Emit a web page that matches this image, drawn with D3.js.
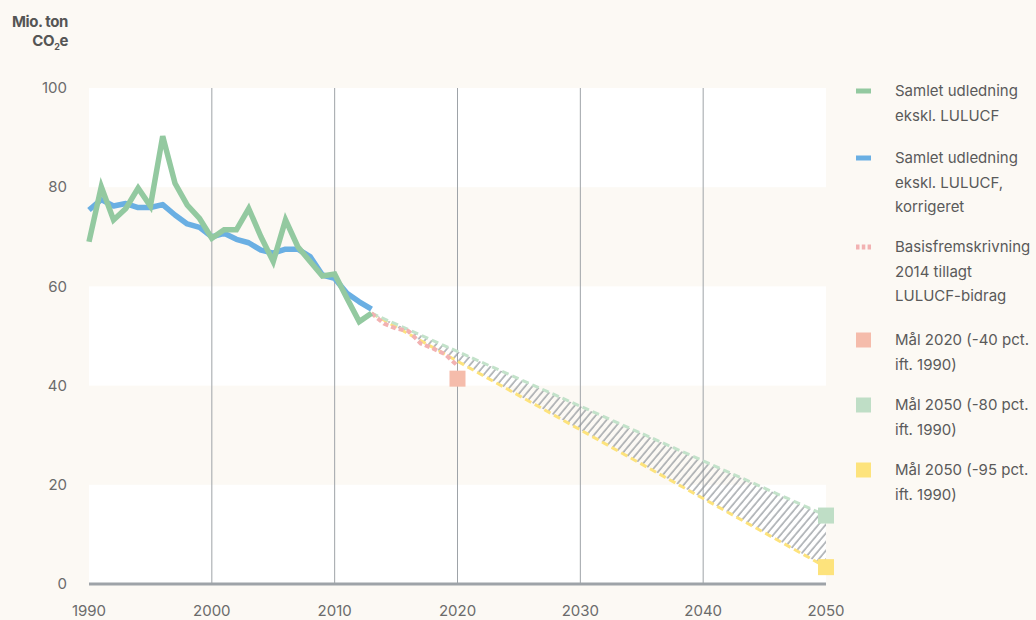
<!DOCTYPE html>
<html>
<head>
<meta charset="utf-8">
<script src="https://cdn.jsdelivr.net/npm/d3@7"></script>
<style>
  body { margin: 0; background: #fcf9f4; }
  svg { display: block; font-family: Inter, "Noto Sans", sans-serif; }
</style>
</head>
<body>
<svg id="chart" width="1036" height="620"></svg>
<script>
// Historical emissions, mio. ton CO2e
const years = d3.range(1990, 2014);
const totalExcl = [69, 80.1, 73.4, 75.7, 79.8, 76.2, 90.3, 80.8, 76.4, 73.7, 69.7, 71.4,
                   71.4, 75.7, 70, 65, 73.4, 68, 65, 62.1, 62.5, 57.6, 52.9, 54.6];
const totalCorrected = [75.4, 77.5, 76.2, 76.7, 75.9, 75.9, 76.5, 74.4, 72.6, 71.9, 70.0, 70.7,
                        69.5, 68.8, 67.3, 66.7, 67.5, 67.5, 66.0, 62.3, 61.6, 58.6, 56.9, 55.4];

// Basisfremskrivning 2014 incl. LULUCF
const projYears = [2013, 2014, 2015, 2016, 2017, 2018, 2019, 2020];
const projValues = [54.6, 52.5, 51.5, 51.0, 48.5, 47.5, 46.3, 44.0];

// Target paths towards 2050
const pathYears = [2013, 2050];
const path80 = [54.6, 13.8];
const path95 = [54.6, 3.4];

// Goals
const goals = [
  { year: 2020, value: 41.4, color: "#f5bcab" },
  { year: 2050, value: 13.8, color: "#bfdec6" },
  { year: 2050, value: 3.4, color: "#fde37c" }
];

const yTicks = [0, 20, 40, 60, 80, 100];
const xTicks = [1990, 2000, 2010, 2020, 2030, 2040, 2050];

const legendItems = [
  { type: "line", color: "#93c9a0", lines: ["Samlet udledning", "ekskl. LULUCF"] },
  { type: "line", color: "#6aafe3", lines: ["Samlet udledning", "ekskl. LULUCF,", "korrigeret"] },
  { type: "dots", color: "#f2b2b2", lines: ["Basisfremskrivning", "2014 tillagt", "LULUCF-bidrag"] },
  { type: "square", color: "#f5bcab", lines: ["Mål 2020 (-40 pct.", "ift. 1990)"] },
  { type: "square", color: "#bfdec6", lines: ["Mål 2050 (-80 pct.", "ift. 1990)"] },
  { type: "square", color: "#fde37c", lines: ["Mål 2050 (-95 pct.", "ift. 1990)"] }
];
const legendTops = [91, 158, 247, 340, 405, 470];

const svg = d3.select("#chart");
const x = d3.scaleLinear().domain([1990, 2050]).range([89, 826]);
const y = d3.scaleLinear().domain([0, 100]).range([584, 88]);

// Hatch pattern
const defs = svg.append("defs");
defs.append("pattern")
    .attr("id", "hatch")
    .attr("patternUnits", "userSpaceOnUse")
    .attr("width", 5.6).attr("height", 5.6)
    .attr("patternTransform", "rotate(40)")
  .append("line")
    .attr("x1", 1).attr("y1", 0).attr("x2", 1).attr("y2", 5.6)
    .attr("stroke", "#8c9196").attr("stroke-width", 1.2);

// Background bands
const bands = [[80, 100], [40, 60], [0, 20]];
svg.append("g").selectAll("rect")
  .data(bands)
  .join("rect")
    .attr("x", x(1990))
    .attr("width", x(2050) - x(1990))
    .attr("y", d => y(d[1]))
    .attr("height", d => y(d[0]) - y(d[1]))
    .attr("fill", "#ffffff");

// Vertical gridlines
svg.append("g").selectAll("line")
  .data(xTicks.slice(1, -1))
  .join("line")
    .attr("x1", d => x(d)).attr("x2", d => x(d))
    .attr("y1", y(100)).attr("y2", y(0))
    .attr("stroke", "#9ea3a8").attr("stroke-width", 1);

// Axis line
svg.append("line")
    .attr("x1", x(1990)).attr("x2", x(2050))
    .attr("y1", y(0)).attr("y2", y(0))
    .attr("stroke", "#9ea3a8").attr("stroke-width", 3);

// Y tick labels
svg.append("g").selectAll("text")
  .data(yTicks)
  .join("text")
    .attr("x", 67).attr("y", d => y(d))
    .attr("dy", "0.35em")
    .attr("text-anchor", "end")
    .attr("font-size", 15).attr("fill", "#6b6b6b")
    .text(d => d);

// X tick labels
svg.append("g").selectAll("text")
  .data(xTicks)
  .join("text")
    .attr("x", d => x(d)).attr("y", 616)
    .attr("text-anchor", "middle")
    .attr("font-size", 15).attr("fill", "#6b6b6b")
    .text(d => d);

// Axis title
const title = svg.append("text")
    .attr("text-anchor", "end")
    .attr("font-size", 15).attr("font-weight", 700)
    .attr("fill", "#555").attr("letter-spacing", -0.4);
title.append("tspan").attr("x", 68).attr("y", 27).text("Mio. ton");
const co2 = title.append("tspan").attr("x", 68).attr("y", 46);
co2.append("tspan").text("CO");
co2.append("tspan").attr("font-size", 9).attr("dy", 4).text("2");
co2.append("tspan").attr("dy", -4).text("e");

// Hatched gap between -80 and -95 paths
const pathData = pathYears.map((yr, i) => ({ year: yr, hi: path80[i], lo: path95[i] }));
svg.append("path")
    .datum(pathData)
    .attr("fill", "url(#hatch)")
    .attr("d", d3.area().x(d => x(d.year)).y0(d => y(d.lo)).y1(d => y(d.hi)));

const line = d3.line().x(d => x(d[0])).y(d => y(d[1]));

// Target path lines
svg.append("path")
    .datum(pathYears.map((yr, i) => [yr, path95[i]]))
    .attr("fill", "none").attr("stroke", "#fde37c")
    .attr("stroke-width", 3).attr("stroke-dasharray", "7,4")
    .attr("d", line);
svg.append("path")
    .datum(pathYears.map((yr, i) => [yr, path80[i]]))
    .attr("fill", "none").attr("stroke", "#c3e2ca")
    .attr("stroke-width", 3).attr("stroke-dasharray", "7,4")
    .attr("d", line);

// Projection
svg.append("path")
    .datum(projYears.map((yr, i) => [yr, projValues[i]]))
    .attr("fill", "none").attr("stroke", "#f2b2b2")
    .attr("stroke-width", 4).attr("stroke-dasharray", "5,3")
    .attr("d", line);

// Historical series
svg.append("path")
    .datum(years.map((yr, i) => [yr, totalCorrected[i]]))
    .attr("fill", "none").attr("stroke", "#6aafe3")
    .attr("stroke-width", 5.5).attr("stroke-linejoin", "round")
    .attr("d", line);
svg.append("path")
    .datum(years.map((yr, i) => [yr, totalExcl[i]]))
    .attr("fill", "none").attr("stroke", "#93c9a0")
    .attr("stroke-width", 5.5).attr("stroke-linejoin", "miter")
    .attr("d", line);

// Goal squares
svg.append("g").selectAll("rect")
  .data(goals)
  .join("rect")
    .attr("x", d => x(d.year) - 8).attr("y", d => y(d.value) - 8)
    .attr("width", 16).attr("height", 16)
    .attr("fill", d => d.color);

// Legend
const legend = svg.append("g");
legendItems.forEach((item, i) => {
  const top = legendTops[i];
  const g = legend.append("g");
  if (item.type === "line") {
    g.append("rect").attr("x", 856).attr("y", top - 2.5).attr("width", 15).attr("height", 5).attr("fill", item.color);
  } else if (item.type === "dots") {
    g.append("line").attr("x1", 856).attr("x2", 871).attr("y1", top).attr("y2", top)
      .attr("stroke", item.color).attr("stroke-width", 5).attr("stroke-dasharray", "3.5,2.3");
  } else {
    g.append("rect").attr("x", 856).attr("y", top - 7.5).attr("width", 15).attr("height", 15).attr("fill", item.color);
  }
  g.append("g").selectAll("text")
    .data(item.lines)
    .join("text")
      .attr("x", 895).attr("y", (d, j) => top + j * 24.5)
      .attr("dy", "0.35em")
      .attr("font-size", 15).attr("fill", "#5a5a5a")
      .text(d => d);
});
</script>
</body>
</html>
